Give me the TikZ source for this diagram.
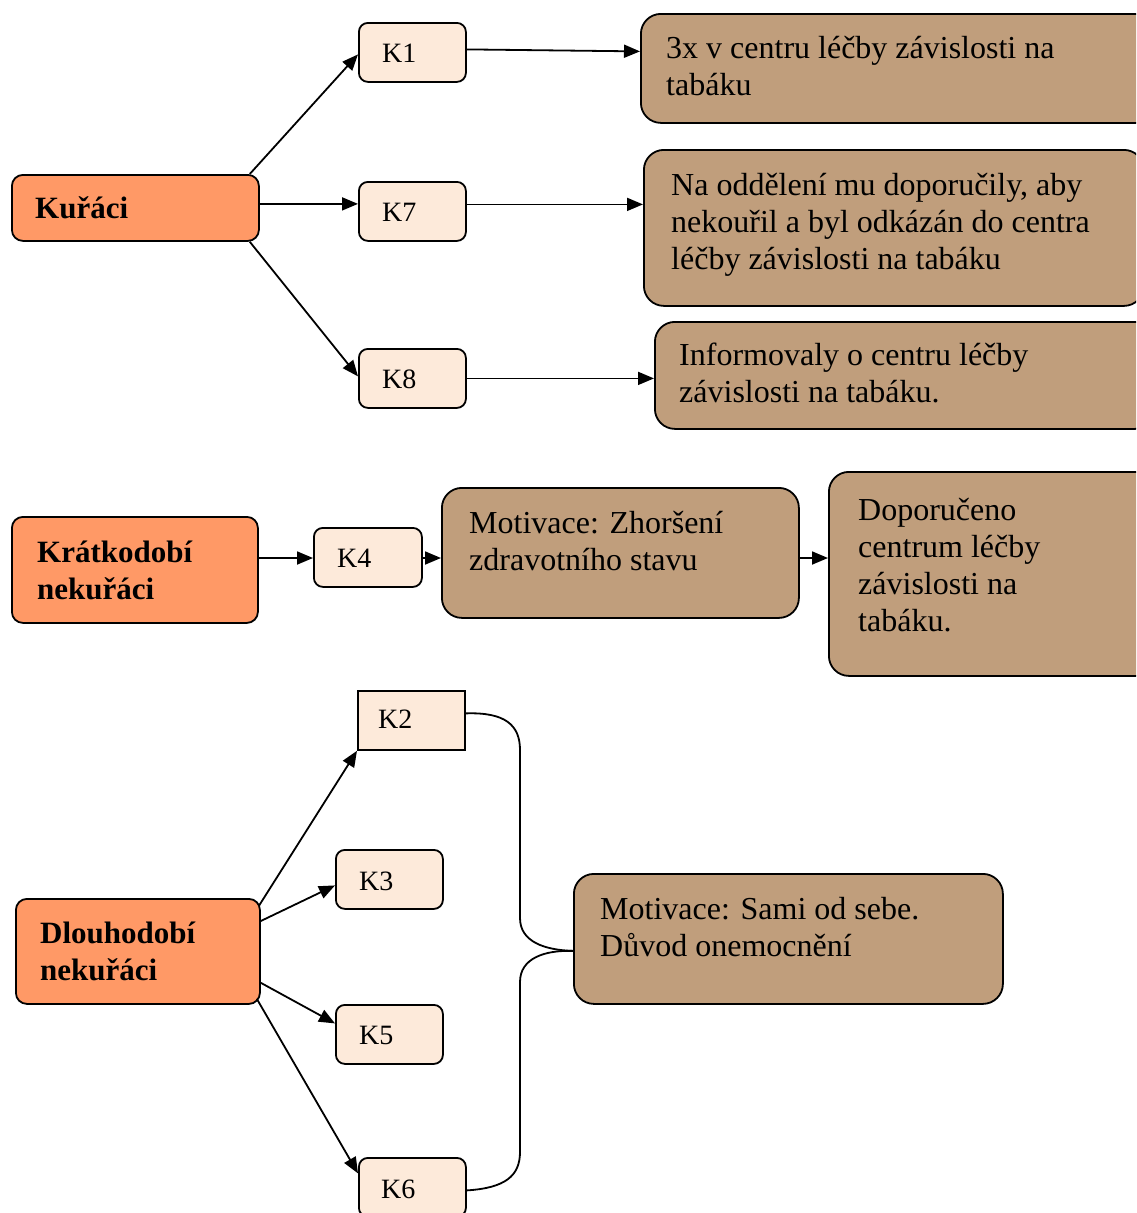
\documentclass[tikz,border=0pt]{standalone}
\usepackage{fontspec}
\setmainfont{Liberation Serif}
\usetikzlibrary{arrows.meta}
\definecolor{groupfill}{RGB}{255,153,102}
\definecolor{casefill}{RGB}{253,234,218}
\definecolor{notefill}{RGB}{192,158,124}
\tikzset{
  box/.style={draw=black, line width=1.8pt, anchor=north west, inner sep=0pt},
  group/.style={box, fill=groupfill, rounded corners=11pt},
  case/.style={box, fill=casefill, rounded corners=9pt, minimum width=107pt, minimum height=59pt},
  note/.style={box, fill=notefill, rounded corners=20pt},
  % text nodes are placed by the baseline of their last line
  txt/.style={anchor=base west, inner sep=0pt, align=left, font=\fontsize{32}{37}\selectfont},
  gtxt/.style={txt, font=\fontsize{31}{37}\selectfont\bfseries},
  ktxt/.style={txt, font=\fontsize{28}{34}\selectfont},
  conn/.style={line width=1.8pt, -{Triangle[length=16pt,width=13pt]}},
  brace/.style={line width=1.8pt}
}
\begin{document}
\begin{tikzpicture}[x=1pt, y=-1pt]
\useasboundingbox (0,0) rectangle (1136,1213);
\clip (0,0) rectangle (1136,1213);

% ---- smokers ----
\node[group, minimum width=247pt, minimum height=66pt] (kur) at (11,174) {};
\node[gtxt] (tkur) at (35,218) {Kuřáci};
\node[case] (k1) at (358,22) {};
\node[ktxt] (tk1) at (382,62) {K1};
\node[case] (k7) at (358,181) {};
\node[ktxt] (tk7) at (382,221) {K7};
\node[case] (k8) at (358,348) {};
\node[ktxt] (tk8) at (382,388) {K8};
\node[note, minimum width=520pt, minimum height=109pt] (n1) at (640,13) {};
\node[txt] (tn1) at (666,95) {3x v centru léčby závislosti na\\tabáku};
\node[note, minimum width=500pt, minimum height=156pt] (n7) at (643,149) {};
\node[txt] (tn7) at (671,269) {Na oddělení mu doporučily, aby\\nekouřil a byl odkázán do centra\\léčby závislosti na tabáku};
\node[note, minimum width=500pt, minimum height=107pt] (n8) at (654,321) {};
\node[txt] (tn8) at (679,402) {Informovaly o centru léčby\\závislosti na tabáku.};

\draw[conn] ([xshift=-10pt]kur.north east) -- ([yshift=-2pt]k1.west);
\draw[conn] ([yshift=4pt]kur.east) -- ([yshift=4pt]kur.east -| k7.west);
\draw[conn] ([xshift=-10pt]kur.south east) -- ([yshift=2pt]k8.west);
\draw[conn] ([yshift=3pt]k1.east) -- ([yshift=1pt]k1.east -| n1.west);
\draw[conn] ([yshift=7pt]k7.east) -- ([yshift=7pt]k7.east -| n7.west);
\draw[conn] (k8.east) -- (k8.east -| n8.west);

% ---- short-term non-smokers ----
\node[group, minimum width=246pt, minimum height=106pt] (kra) at (11,516) {};
\node[gtxt] (tkra) at (37,599) {Krátkodobí\\nekuřáci};
\node[case, minimum width=108pt] (k4) at (313,527) {};
\node[ktxt] (tk4) at (337,567) {K4};
\node[note, minimum width=357pt, minimum height=130pt] (m4) at (441,487) {};
\node[txt] (tm4) at (469,570) {Motivace: Zhoršení\\zdravotního stavu};
\node[note, minimum width=330pt, minimum height=204pt] (d4) at (828,471) {};
\node[txt] (td4) at (858,631) {Doporučeno\\centrum léčby\\závislosti na\\tabáku.};

\coordinate (row) at (0,558);
\draw[conn] (kra.east |- row) -- (k4.west |- row);
\draw[conn] (k4.east |- row) -- (m4.west |- row);
\draw[conn] (m4.east |- row) -- (d4.west |- row);

% ---- long-term non-smokers ----
\node[group, minimum width=244pt, minimum height=105pt] (dlo) at (15,898) {};
\node[gtxt] (tdlo) at (40,980) {Dlouhodobí\\nekuřáci};
\node[case, rounded corners=0pt] (k2) at (357,690) {};
\node[ktxt] (tk2) at (378,728) {K2};
\node[case] (k3) at (335,849) {};
\node[ktxt] (tk3) at (359,890) {K3};
\node[case] (k5) at (335,1004) {};
\node[ktxt] (tk5) at (359,1044) {K5};
\node[case] (k6) at (358,1157) {};
\node[ktxt] (tk6) at (381,1198) {K6};
\node[note, minimum width=429pt, minimum height=130pt] (sam) at (573,873) {};
\node[txt] (tsam) at (600,956) {Motivace: Sami od sebe.\\Důvod onemocnění};

\draw[conn] ([xshift=-2pt,yshift=-8pt]dlo.north east) -- (k2.south west);
\draw[conn] ([yshift=-23pt]dlo.north east) -- ([yshift=-6pt]k3.west);
\draw[conn] ([yshift=22pt]dlo.south east) -- ([yshift=11pt]k5.west);
\draw[conn] ([xshift=-4pt,yshift=6pt]dlo.south east) -- ([yshift=14pt]k6.west);

% curly bracket gathering K2 and K6
\draw[brace] ([yshift=7pt]k2.east) .. controls (505,712) and (520,725) .. (520,750)
  -- (520,918) .. controls (520,942) and (545,950) .. ([yshift=-12pt]sam.west);
\draw[brace] ([yshift=-12pt]sam.west) .. controls (545,950) and (520,958) .. (520,982)
  -- (520,1152) .. controls (520,1176) and (505,1188) .. ([yshift=-3pt]k6.east);
\end{tikzpicture}
\end{document}
